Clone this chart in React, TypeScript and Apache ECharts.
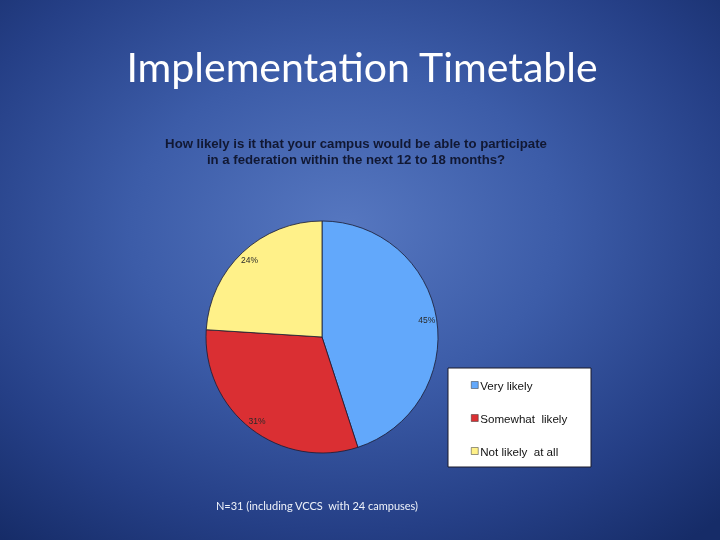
import React, { useEffect, useRef } from "react";
import * as echarts from "echarts";

const categories = ["Very likely", "Somewhat  likely", "Not likely  at all"];
const values = [45, 31, 24];
const sliceColors = ["#62a8fb", "#da2f33", "#fff189"];

const titleText = "Implementation Timetable";
const questionText =
  "How likely is it that your campus would be able to participate\nin a federation within the next 12 to 18 months?";
const footerText = "N=31 (including VCCS  with 24 campuses)";

export default function App() {
  const ref = useRef<HTMLDivElement>(null);
  useEffect(() => {
    document.body.style.margin = "0";
    const chart = echarts.init(ref.current!, null, { renderer: "svg" });
    const data = categories.map((name, i) => ({
      name,
      value: values[i],
      itemStyle: { color: sliceColors[i] },
    }));
    chart.setOption({
      animation: false,
      title: [
        {
          text: titleText,
          left: 357,
          textAlign: "center",
          top: 41,
          textStyle: {
            color: "#ffffff",
            fontFamily: "Lato",
            fontWeight: "normal",
            fontSize: 41,
          },
        },
        {
          text: questionText,
          left: 351,
          textAlign: "center",
          top: 131,
          textStyle: {
            color: "#111833",
            fontFamily: "Liberation Sans",
            fontWeight: "bold",
            fontSize: 13.2,
            lineHeight: 15.5,
          },
        },
        {
          text: footerText,
          left: 312,
          textAlign: "center",
          top: 495,
          textStyle: {
            color: "#eef2fa",
            fontFamily: "Lato",
            fontWeight: "normal",
            fontSize: 11,
          },
        },
      ],
      graphic: [
        {
          type: "rect",
          z: 0,
          shape: { x: 448, y: 368, width: 143, height: 99 },
          style: { fill: "#ffffff", stroke: "#1b1b2a", lineWidth: 1 },
        },
      ],
      legend: {
        orient: "vertical",
        left: 471,
        top: 378,
        z: 10,
        icon: "rect",
        itemWidth: 7,
        itemHeight: 7,
        itemGap: 19,
        padding: 0,
        textStyle: {
          color: "#111111",
          fontFamily: "Liberation Sans",
          fontSize: 11.6,
          lineHeight: 14,
          padding: [0, 0, 0, -3],
        },
        itemStyle: { borderColor: "#333", borderWidth: 0.5 },
        data: categories,
      },
      series: [
        {
          type: "pie",
          center: [322, 337],
          radius: [0, 116],
          startAngle: 90,
          clockwise: true,
          data,
          label: { show: false },
          labelLine: { show: false },
          itemStyle: { borderColor: "#1a1a30", borderWidth: 0.8 },
          emphasis: { disabled: true },
        },
        {
          type: "pie",
          center: [322, 337],
          radius: [90, 116],
          startAngle: 90,
          clockwise: true,
          silent: true,
          legendHoverLink: false,
          data: categories.map((name, i) => ({ name: name + " ", value: values[i] })),
          itemStyle: { color: "rgba(0,0,0,0)", borderWidth: 0 },
          label: {
            show: true,
            position: "inside",
            formatter: (p: any) => p.value + "%",
            color: "#2a2a2a",
            fontFamily: "Liberation Sans",
            fontSize: 8.5,
          },
          labelLine: { show: false },
          emphasis: { disabled: true },
        },
      ],
    });
    return () => chart.dispose();
  }, []);
  return (
    <div
      ref={ref}
      style={{
        position: "fixed",
        left: 0,
        top: 0,
        width: 720,
        height: 540,
        background:
          "radial-gradient(ellipse 75% 75% at 48% 42%, #5677c0 0%, #3c5ca8 40%, #253f86 75%, #162c68 100%)",
      }}
    />
  );
}
